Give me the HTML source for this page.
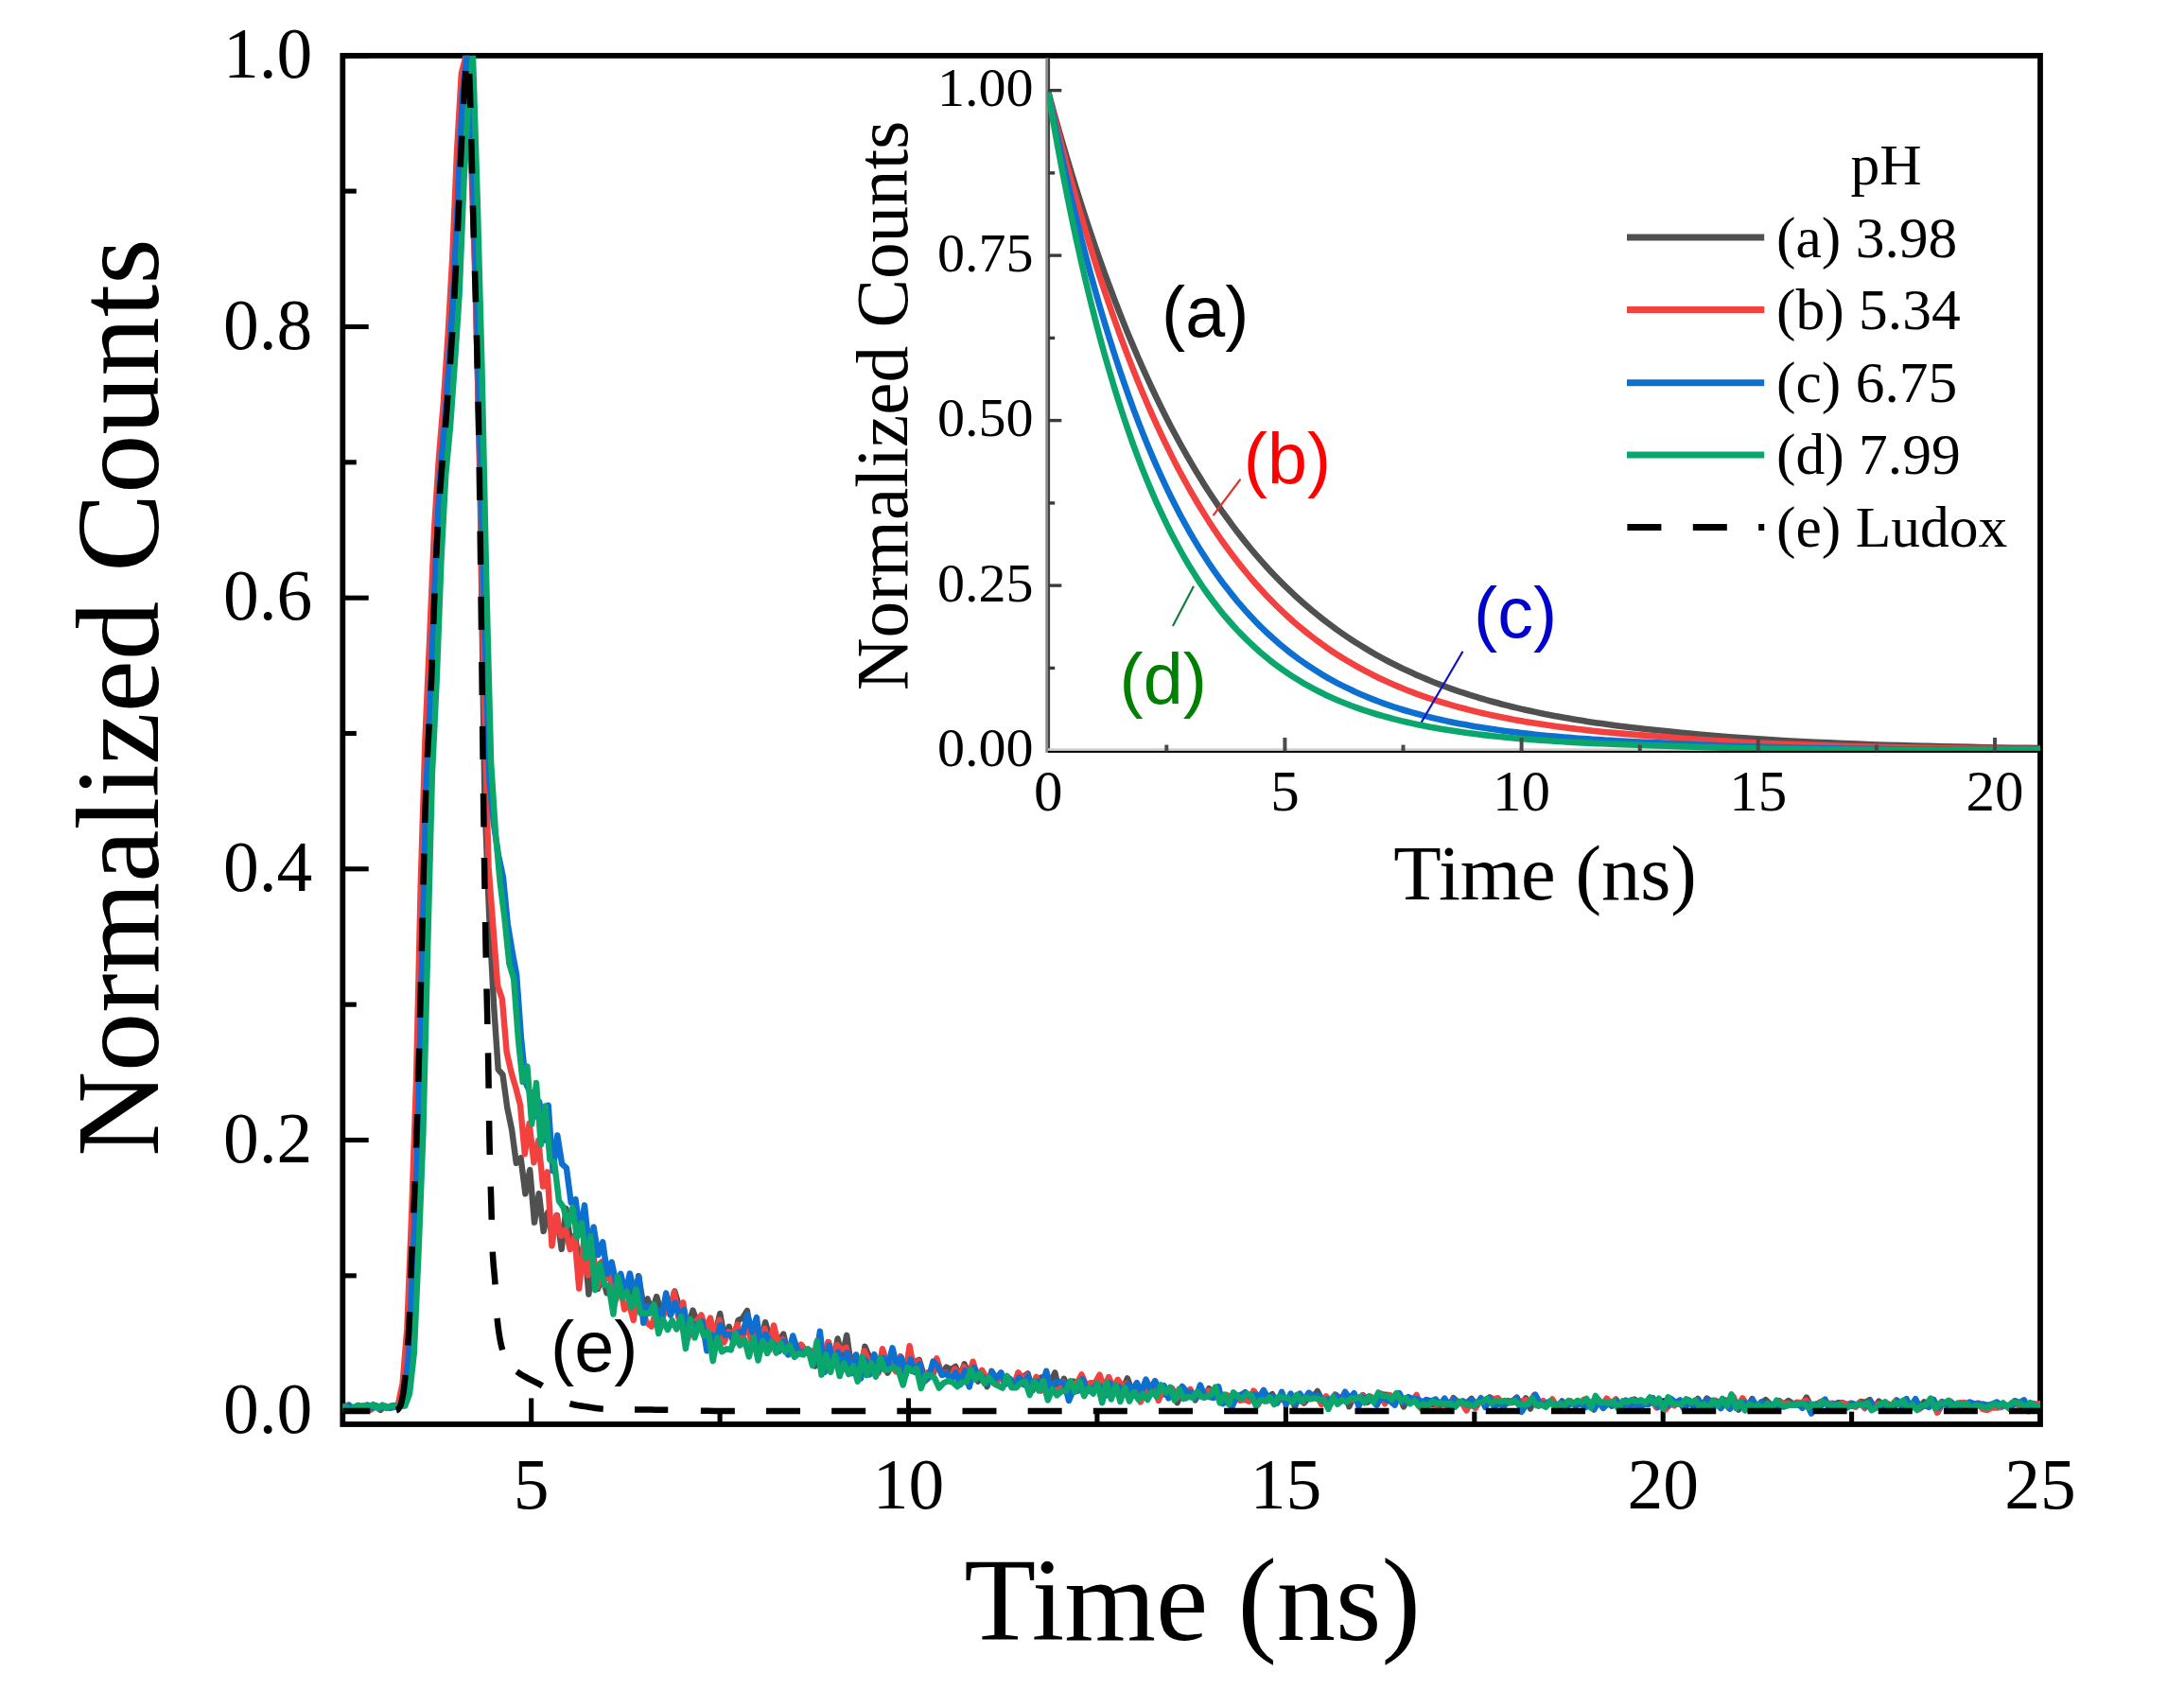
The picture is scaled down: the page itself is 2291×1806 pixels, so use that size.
<!DOCTYPE html>
<html lang="en"><head><meta charset="utf-8"><title>Normalized Counts vs Time (ns)</title>
<style>html,body{margin:0;padding:0;background:#fff}body{width:2291px;height:1806px;overflow:hidden}svg{display:block}</style></head>
<body>
<svg width="2291" height="1806" viewBox="0 0 2291 1806">
<rect width="2291" height="1806" fill="#fff"/>
<defs>
<clipPath id="cm"><rect x="362.3" y="58.85" width="1794.7" height="1447.15"/></clipPath>
<clipPath id="ci"><rect x="1107.8" y="58.85" width="1049.2" height="735.25"/></clipPath>
</defs>
<g stroke="#000" stroke-width="5.1" fill="none">
<path d="M362.3,1492.2h27.4"/>
<path d="M362.3,1348.9h14.5"/>
<path d="M362.3,1205.5h27.4"/>
<path d="M362.3,1062.2h14.5"/>
<path d="M362.3,918.8h27.4"/>
<path d="M362.3,775.5h14.5"/>
<path d="M362.3,632.2h27.4"/>
<path d="M362.3,488.8h14.5"/>
<path d="M362.3,345.5h27.4"/>
<path d="M362.3,202.1h14.5"/>
<path d="M362.3,58.8h27.4"/>
<path d="M561.7,1506.0v-27.6"/>
<path d="M761.1,1506.0v-13.4"/>
<path d="M960.5,1506.0v-27.6"/>
<path d="M1159.9,1506.0v-13.4"/>
<path d="M1359.4,1506.0v-27.6"/>
<path d="M1558.8,1506.0v-13.4"/>
<path d="M1758.2,1506.0v-27.6"/>
<path d="M1957.6,1506.0v-13.4"/>
</g>
<rect x="362.3" y="58.85" width="1794.7" height="1447.15" fill="none" stroke="#000" stroke-width="5.8"/>
<g clip-path="url(#cm)" fill="none" stroke-linejoin="round" stroke-linecap="butt">
<path d="M359.2,1486.5L364.0,1487.5L368.8,1485.6L373.6,1490.7L378.3,1488.2L383.1,1489.4L387.9,1486.3L392.7,1489.4L397.5,1486.2L402.3,1490.9L407.1,1486.7L411.8,1488.6L416.6,1485.9L421.4,1488.1L426.2,1472.1L431.0,1427.3L435.8,1319.4L440.6,1203.3L445.3,1020.2L450.1,829.1L454.9,734.8L459.7,614.2L464.5,515.6L469.3,462.4L474.1,396.9L478.8,327.0L483.6,225.1L488.4,121.8L493.2,58.8L498.0,145.9L502.8,297.2L507.6,516.9L512.3,841.7L517.1,966.5L521.9,1060.0L526.7,1130.8L531.5,1136.3L536.3,1171.4L541.1,1194.5L545.8,1229.9L550.6,1224.5L555.4,1262.4L560.2,1237.0L565.0,1292.6L569.8,1262.1L574.6,1301.9L579.3,1281.7L584.1,1307.8L588.9,1284.9L593.7,1320.9L598.5,1278.0L603.3,1316.5L608.1,1305.9L612.8,1343.6L617.6,1311.9L622.4,1368.5L627.2,1326.9L632.0,1362.8L636.8,1350.1L641.6,1367.3L646.3,1356.1L651.1,1373.2L655.9,1360.0L660.7,1369.3L665.5,1356.4L670.3,1388.3L675.1,1349.2L679.8,1378.0L684.6,1373.5L689.4,1386.3L694.2,1371.0L699.0,1387.3L703.8,1381.6L708.6,1384.5L713.3,1365.3L718.1,1381.9L722.9,1392.9L727.7,1401.3L732.5,1385.6L737.3,1397.9L742.1,1399.9L746.9,1401.3L751.6,1400.9L756.4,1409.7L761.2,1388.9L766.0,1415.0L770.8,1402.7L775.6,1420.8L780.4,1396.0L785.1,1393.7L789.9,1385.8L794.7,1420.3L799.5,1398.0L804.3,1416.8L809.1,1398.2L813.9,1415.2L818.6,1412.9L823.4,1418.7L828.2,1410.5L833.0,1431.7L837.8,1420.8L842.6,1423.9L847.4,1422.4L852.1,1428.6L856.9,1428.2L861.7,1444.6L866.5,1417.2L871.3,1434.5L876.1,1419.2L880.9,1439.1L885.6,1415.5L890.4,1434.9L895.2,1411.8L900.0,1446.0L904.8,1432.8L909.6,1455.2L914.4,1423.8L919.1,1435.0L923.9,1441.9L928.7,1451.2L933.5,1429.1L938.3,1451.7L943.1,1442.4L947.9,1448.0L952.6,1437.0L957.4,1450.8L962.2,1434.1L967.0,1440.7L971.8,1437.8L976.6,1454.2L981.4,1452.9L986.1,1454.0L990.9,1439.9L995.7,1453.7L1000.5,1445.6L1005.3,1448.4L1010.1,1444.9L1014.9,1455.6L1019.6,1442.3L1024.4,1454.7L1029.2,1444.2L1034.0,1460.7L1038.8,1451.3L1043.6,1466.2L1048.4,1449.8L1053.1,1460.9L1057.9,1454.3L1062.7,1463.8L1067.5,1461.2L1072.3,1465.9L1077.1,1454.9L1081.9,1455.7L1086.6,1452.4L1091.4,1470.5L1096.2,1458.4L1101.0,1456.5L1105.8,1455.0L1110.6,1462.1L1115.4,1451.4L1120.1,1472.4L1124.9,1457.7L1129.7,1469.0L1134.5,1460.6L1139.3,1462.5L1144.1,1456.0L1148.9,1469.7L1153.6,1465.7L1158.4,1464.0L1163.2,1459.6L1168.0,1470.1L1172.8,1459.5L1177.6,1469.8L1182.4,1460.6L1187.2,1468.5L1191.9,1457.4L1196.7,1470.8L1201.5,1467.3L1206.3,1477.5L1211.1,1469.7L1215.9,1471.1L1220.7,1463.4L1225.4,1475.5L1230.2,1473.5L1235.0,1476.1L1239.8,1471.9L1244.6,1483.3L1249.4,1472.3L1254.2,1478.1L1258.9,1471.3L1263.7,1480.4L1268.5,1471.0L1273.3,1477.6L1278.1,1468.2L1282.9,1475.2L1287.7,1472.0L1292.4,1480.4L1297.2,1477.4L1302.0,1476.4L1306.8,1479.2L1311.6,1477.0L1316.4,1472.1L1321.2,1480.8L1325.9,1471.4L1330.7,1478.4L1335.5,1470.9L1340.3,1477.7L1345.1,1474.2L1349.9,1483.2L1354.7,1478.0L1359.4,1482.1L1364.2,1475.2L1369.0,1487.2L1373.8,1475.8L1378.6,1483.6L1383.4,1478.0L1388.2,1476.8L1392.9,1471.0L1397.7,1480.4L1402.5,1477.3L1407.3,1481.9L1412.1,1476.4L1416.9,1482.4L1421.7,1474.5L1426.4,1487.3L1431.2,1475.7L1436.0,1482.2L1440.8,1475.0L1445.6,1482.7L1450.4,1478.9L1455.2,1484.4L1459.9,1474.0L1464.7,1474.8L1469.5,1475.3L1474.3,1481.0L1479.1,1475.1L1483.9,1487.4L1488.7,1478.2L1493.4,1481.1L1498.2,1480.0L1503.0,1485.8L1507.8,1480.1L1512.6,1485.3L1517.4,1485.4L1522.2,1483.8L1526.9,1481.4L1531.7,1487.6L1536.5,1478.2L1541.3,1482.4L1546.1,1482.7L1550.9,1483.3L1555.7,1479.0L1560.4,1484.5L1565.2,1480.1L1570.0,1484.8L1574.8,1477.4L1579.6,1480.0L1584.4,1480.7L1589.2,1488.6L1593.9,1481.2L1598.7,1481.9L1603.5,1477.7L1608.3,1487.2L1613.1,1478.3L1617.9,1489.6L1622.7,1477.6L1627.5,1484.9L1632.2,1486.6L1637.0,1485.1L1641.8,1481.1L1646.6,1489.1L1651.4,1481.4L1656.2,1487.2L1661.0,1484.0L1665.7,1485.5L1670.5,1483.1L1675.3,1486.2L1680.1,1482.5L1684.9,1490.4L1689.7,1479.7L1694.5,1486.5L1699.2,1479.7L1704.0,1486.7L1708.8,1480.1L1713.6,1487.8L1718.4,1482.4L1723.2,1488.3L1728.0,1479.6L1732.7,1484.3L1737.5,1483.1L1742.3,1485.0L1747.1,1481.1L1751.9,1488.3L1756.7,1486.1L1761.5,1489.0L1766.2,1484.9L1771.0,1485.2L1775.8,1482.6L1780.6,1490.4L1785.4,1482.4L1790.2,1485.6L1795.0,1479.0L1799.7,1487.1L1804.5,1478.5L1809.3,1482.3L1814.1,1483.7L1818.9,1484.6L1823.7,1480.4L1828.5,1487.5L1833.2,1484.3L1838.0,1490.7L1842.8,1480.6L1847.6,1486.9L1852.4,1479.1L1857.2,1488.0L1862.0,1483.6L1866.7,1480.0L1871.5,1484.5L1876.3,1489.6L1881.1,1481.2L1885.9,1484.9L1890.7,1481.0L1895.5,1484.2L1900.2,1485.7L1905.0,1485.5L1909.8,1477.6L1914.6,1486.7L1919.4,1490.6L1924.2,1486.7L1929.0,1483.3L1933.7,1484.9L1938.5,1485.6L1943.3,1483.1L1948.1,1483.3L1952.9,1485.3L1957.7,1483.6L1962.5,1485.7L1967.2,1482.0L1972.0,1482.9L1976.8,1480.1L1981.6,1488.2L1986.4,1481.6L1991.2,1487.0L1996.0,1484.5L2000.7,1490.0L2005.5,1483.4L2010.3,1486.1L2015.1,1485.9L2019.9,1487.0L2024.7,1480.4L2029.5,1487.3L2034.2,1482.4L2039.0,1486.0L2043.8,1480.6L2048.6,1493.2L2053.4,1484.0L2058.2,1485.4L2063.0,1483.3L2067.8,1486.0L2072.5,1483.4L2077.3,1489.5L2082.1,1488.6L2086.9,1488.3L2091.7,1485.3L2096.5,1484.6L2101.3,1486.2L2106.0,1487.8L2110.8,1488.3L2115.6,1487.9L2120.4,1485.5L2125.2,1488.1L2130.0,1482.7L2134.8,1486.6L2139.5,1482.7L2144.3,1489.7L2149.1,1483.9L2153.9,1485.8L2158.7,1486.8L2163.5,1489.0" stroke="#505050" stroke-width="6.4"/>
<path d="M358.6,1487.2L363.4,1488.0L368.2,1486.4L373.0,1489.7L377.7,1486.3L382.5,1489.7L387.3,1487.6L392.1,1490.7L396.9,1487.3L401.7,1488.4L406.5,1488.0L411.2,1488.2L416.0,1488.1L420.8,1485.7L425.6,1462.6L430.4,1404.4L435.2,1282.3L440.0,1143.4L444.7,936.2L449.5,780.3L454.3,672.3L459.1,558.9L463.9,484.5L468.7,427.3L473.5,355.6L478.2,273.0L483.0,160.8L487.8,77.7L492.6,58.8L497.4,148.6L502.2,290.0L507.0,471.9L511.7,726.9L516.5,916.2L521.3,979.0L526.1,1042.1L530.9,1056.2L535.7,1112.5L540.5,1133.9L545.2,1149.6L550.0,1168.4L554.8,1220.3L559.6,1187.9L564.4,1229.2L569.2,1205.8L574.0,1254.5L578.7,1239.4L583.5,1317.2L588.3,1285.3L593.1,1306.9L597.9,1299.8L602.7,1321.1L607.5,1307.8L612.2,1362.6L617.0,1317.6L621.8,1348.4L626.6,1325.5L631.4,1361.4L636.2,1334.0L641.0,1352.3L645.7,1349.3L650.5,1376.3L655.3,1356.5L660.1,1384.4L664.9,1377.6L669.7,1396.0L674.5,1362.8L679.2,1387.1L684.0,1398.7L688.8,1402.6L693.6,1386.2L698.4,1398.5L703.2,1386.6L708.0,1388.7L712.7,1366.2L717.5,1393.8L722.3,1377.3L727.1,1416.0L731.9,1397.7L736.7,1396.8L741.5,1390.5L746.3,1405.7L751.0,1393.5L755.8,1416.5L760.6,1395.7L765.4,1419.5L770.2,1408.3L775.0,1410.9L779.8,1400.7L784.5,1419.5L789.3,1395.5L794.1,1417.1L798.9,1401.9L803.7,1420.7L808.5,1404.7L813.3,1427.9L818.0,1401.4L822.8,1420.4L827.6,1416.2L832.4,1428.0L837.2,1428.4L842.0,1428.7L846.8,1421.6L851.5,1431.0L856.3,1428.0L861.1,1434.9L865.9,1414.7L870.7,1435.8L875.5,1419.0L880.3,1435.2L885.0,1422.1L889.8,1427.2L894.6,1424.9L899.4,1445.1L904.2,1441.9L909.0,1443.9L913.8,1428.4L918.5,1440.5L923.3,1436.4L928.1,1452.5L932.9,1426.2L937.7,1441.7L942.5,1442.4L947.3,1450.2L952.0,1434.0L956.8,1456.1L961.6,1423.2L966.4,1449.0L971.2,1439.2L976.0,1458.5L980.8,1451.4L985.5,1453.5L990.3,1436.3L995.1,1452.5L999.9,1451.3L1004.7,1458.0L1009.5,1447.3L1014.3,1455.1L1019.0,1445.2L1023.8,1456.9L1028.6,1439.7L1033.4,1455.1L1038.2,1448.8L1043.0,1457.4L1047.8,1455.7L1052.5,1463.9L1057.3,1455.0L1062.1,1462.0L1066.9,1457.3L1071.7,1464.6L1076.5,1451.2L1081.3,1457.9L1086.0,1454.0L1090.8,1465.5L1095.6,1455.8L1100.4,1470.8L1105.2,1460.3L1110.0,1466.3L1114.8,1468.4L1119.5,1471.8L1124.3,1461.4L1129.1,1472.8L1133.9,1464.7L1138.7,1462.3L1143.5,1453.4L1148.3,1464.9L1153.0,1462.1L1157.8,1462.0L1162.6,1453.7L1167.4,1467.7L1172.2,1456.0L1177.0,1468.0L1181.8,1458.8L1186.6,1466.2L1191.3,1462.9L1196.1,1471.6L1200.9,1467.5L1205.7,1482.5L1210.5,1472.2L1215.3,1464.8L1220.1,1466.5L1224.8,1481.0L1229.6,1467.7L1234.4,1470.6L1239.2,1467.9L1244.0,1478.4L1248.8,1470.4L1253.6,1475.4L1258.3,1468.8L1263.1,1478.3L1267.9,1470.5L1272.7,1473.5L1277.5,1470.3L1282.3,1477.8L1287.1,1469.0L1291.8,1479.7L1296.6,1474.8L1301.4,1477.9L1306.2,1475.9L1311.0,1481.0L1315.8,1479.8L1320.6,1481.7L1325.3,1470.6L1330.1,1485.4L1334.9,1472.8L1339.7,1481.4L1344.5,1477.5L1349.3,1482.4L1354.1,1479.5L1358.8,1481.3L1363.6,1477.3L1368.4,1483.7L1373.2,1477.1L1378.0,1482.2L1382.8,1473.7L1387.6,1477.1L1392.3,1476.3L1397.1,1485.0L1401.9,1476.4L1406.7,1485.2L1411.5,1474.4L1416.3,1477.9L1421.1,1475.7L1425.8,1480.8L1430.6,1479.5L1435.4,1481.4L1440.2,1475.5L1445.0,1477.6L1449.8,1477.0L1454.6,1484.9L1459.3,1473.2L1464.1,1484.2L1468.9,1475.1L1473.7,1482.2L1478.5,1472.9L1483.3,1483.2L1488.1,1478.2L1492.8,1482.0L1497.6,1475.0L1502.4,1489.5L1507.2,1481.6L1512.0,1483.3L1516.8,1482.7L1521.6,1487.7L1526.3,1482.6L1531.1,1490.0L1535.9,1479.7L1540.7,1484.5L1545.5,1483.4L1550.3,1491.4L1555.1,1482.6L1559.8,1488.9L1564.6,1481.4L1569.4,1480.9L1574.2,1478.7L1579.0,1479.3L1583.8,1478.2L1588.6,1485.8L1593.3,1483.4L1598.1,1483.0L1602.9,1480.2L1607.7,1481.8L1612.5,1480.2L1617.3,1482.7L1622.1,1475.0L1626.9,1486.7L1631.6,1481.2L1636.4,1485.2L1641.2,1479.5L1646.0,1488.7L1650.8,1484.8L1655.6,1486.5L1660.4,1481.5L1665.1,1486.4L1669.9,1485.0L1674.7,1479.7L1679.5,1481.8L1684.3,1489.9L1689.1,1480.4L1693.9,1486.8L1698.6,1478.7L1703.4,1484.1L1708.2,1479.5L1713.0,1488.9L1717.8,1481.6L1722.6,1489.4L1727.4,1486.7L1732.1,1482.6L1736.9,1484.1L1741.7,1483.3L1746.5,1481.3L1751.3,1488.2L1756.1,1484.1L1760.9,1490.5L1765.6,1481.1L1770.4,1486.2L1775.2,1481.1L1780.0,1486.9L1784.8,1480.5L1789.6,1485.0L1794.4,1480.5L1799.1,1489.4L1803.9,1481.4L1808.7,1486.3L1813.5,1480.8L1818.3,1483.8L1823.1,1480.9L1827.9,1489.0L1832.6,1476.7L1837.4,1488.0L1842.2,1478.3L1847.0,1485.6L1851.8,1482.7L1856.6,1489.9L1861.4,1483.0L1866.1,1489.2L1870.9,1488.5L1875.7,1487.0L1880.5,1481.9L1885.3,1485.0L1890.1,1483.8L1894.9,1485.8L1899.6,1482.8L1904.4,1483.3L1909.2,1480.7L1914.0,1485.5L1918.8,1488.0L1923.6,1482.7L1928.4,1481.1L1933.1,1483.9L1937.9,1483.7L1942.7,1487.3L1947.5,1483.3L1952.3,1485.5L1957.1,1486.2L1961.9,1487.8L1966.6,1482.9L1971.4,1489.1L1976.2,1482.9L1981.0,1487.0L1985.8,1484.6L1990.6,1489.4L1995.4,1484.4L2000.1,1486.0L2004.9,1480.4L2009.7,1485.8L2014.5,1483.8L2019.3,1490.3L2024.1,1483.0L2028.9,1490.1L2033.6,1486.6L2038.4,1486.1L2043.2,1480.0L2048.0,1493.6L2052.8,1482.0L2057.6,1486.1L2062.4,1481.9L2067.2,1487.0L2071.9,1483.7L2076.7,1483.0L2081.5,1488.3L2086.3,1485.0L2091.1,1483.7L2095.9,1489.8L2100.7,1491.1L2105.4,1488.6L2110.2,1488.3L2115.0,1487.8L2119.8,1485.5L2124.6,1489.4L2129.4,1481.7L2134.2,1485.7L2138.9,1482.2L2143.7,1487.6L2148.5,1484.7L2153.3,1484.5L2158.1,1484.2L2162.9,1491.2" stroke="#f2413f" stroke-width="6.4"/>
<path d="M359.6,1485.0L364.4,1491.3L369.2,1486.0L374.0,1489.7L378.7,1486.0L383.5,1487.8L388.3,1485.4L393.1,1488.8L397.9,1486.8L402.7,1488.3L407.5,1487.6L412.2,1489.0L417.0,1487.0L421.8,1488.1L426.6,1477.4L431.4,1440.4L436.2,1343.2L441.0,1226.3L445.7,1037.3L450.5,836.3L455.3,730.9L460.1,605.6L464.9,506.5L469.7,452.4L474.5,385.5L479.2,311.5L484.0,211.2L488.8,100.8L493.6,58.8L498.4,146.8L503.2,296.2L508.0,487.1L512.7,671.6L517.5,826.2L522.3,873.4L527.1,904.8L531.9,927.1L536.7,976.4L541.5,1005.5L546.2,1031.0L551.0,1098.2L555.8,1144.8L560.6,1156.1L565.4,1180.7L570.2,1165.1L575.0,1205.8L579.7,1168.6L584.5,1238.1L589.3,1200.5L594.1,1230.7L598.9,1235.1L603.7,1271.6L608.5,1268.2L613.2,1303.7L618.0,1274.3L622.8,1319.7L627.6,1297.4L632.4,1326.9L637.2,1313.3L642.0,1347.0L646.7,1334.5L651.5,1357.5L656.3,1346.9L661.1,1368.2L665.9,1346.5L670.7,1367.5L675.5,1350.3L680.2,1398.7L685.0,1381.3L689.8,1385.8L694.6,1384.4L699.4,1394.7L704.2,1367.3L709.0,1390.8L713.7,1377.6L718.5,1391.8L723.3,1385.1L728.1,1411.2L732.9,1399.5L737.7,1404.3L742.5,1397.4L747.3,1428.3L752.0,1411.6L756.8,1418.0L761.6,1401.2L766.4,1411.6L771.2,1411.1L776.0,1412.7L780.8,1408.5L785.5,1409.1L790.3,1390.0L795.1,1408.7L799.9,1393.1L804.7,1425.4L809.5,1410.7L814.3,1418.5L819.0,1422.8L823.8,1428.7L828.6,1418.2L833.4,1432.4L838.2,1412.4L843.0,1426.9L847.8,1431.3L852.5,1427.7L857.3,1430.6L862.1,1441.0L866.9,1407.6L871.7,1451.1L876.5,1422.8L881.3,1443.3L886.0,1429.5L890.8,1444.6L895.6,1430.0L900.4,1452.2L905.2,1432.4L910.0,1457.7L914.8,1437.5L919.5,1453.4L924.3,1432.0L929.1,1449.7L933.9,1435.7L938.7,1444.1L943.5,1425.3L948.3,1444.6L953.0,1435.6L957.8,1453.3L962.6,1437.3L967.4,1450.9L972.2,1442.0L977.0,1461.1L981.8,1456.8L986.5,1439.5L991.3,1444.2L996.1,1453.9L1000.9,1452.0L1005.7,1458.7L1010.5,1451.2L1015.3,1464.1L1020.0,1449.4L1024.8,1466.5L1029.6,1445.8L1034.4,1455.1L1039.2,1455.8L1044.0,1463.2L1048.8,1450.8L1053.5,1457.4L1058.3,1451.3L1063.1,1463.3L1067.9,1458.1L1072.7,1464.9L1077.5,1456.7L1082.3,1464.1L1087.0,1455.2L1091.8,1467.7L1096.6,1460.3L1101.4,1467.4L1106.2,1449.7L1111.0,1468.3L1115.8,1461.9L1120.5,1461.0L1125.3,1462.9L1130.1,1481.1L1134.9,1469.0L1139.7,1470.7L1144.5,1458.2L1149.3,1468.9L1154.0,1471.7L1158.8,1464.1L1163.6,1466.2L1168.4,1476.2L1173.2,1462.1L1178.0,1473.8L1182.8,1466.3L1187.6,1470.4L1192.3,1463.6L1197.1,1470.5L1201.9,1462.1L1206.7,1471.8L1211.5,1458.6L1216.3,1469.1L1221.1,1460.1L1225.8,1469.0L1230.6,1465.2L1235.4,1478.4L1240.2,1473.6L1245.0,1473.5L1249.8,1465.9L1254.6,1471.7L1259.3,1472.2L1264.1,1478.1L1268.9,1464.5L1273.7,1476.0L1278.5,1477.2L1283.3,1478.0L1288.1,1466.1L1292.8,1484.3L1297.6,1481.3L1302.4,1488.0L1307.2,1476.9L1312.0,1474.6L1316.8,1472.6L1321.6,1476.6L1326.3,1474.5L1331.1,1478.8L1335.9,1469.9L1340.7,1478.6L1345.5,1476.5L1350.3,1483.6L1355.1,1471.7L1359.8,1485.1L1364.6,1473.5L1369.4,1484.4L1374.2,1473.5L1379.0,1480.4L1383.8,1472.6L1388.6,1476.4L1393.3,1475.5L1398.1,1480.7L1402.9,1479.6L1407.7,1481.3L1412.5,1475.3L1417.3,1481.8L1422.1,1471.7L1426.8,1478.6L1431.6,1473.1L1436.4,1486.7L1441.2,1477.6L1446.0,1480.7L1450.8,1480.9L1455.6,1485.8L1460.3,1476.0L1465.1,1479.9L1469.9,1481.7L1474.7,1485.7L1479.5,1473.3L1484.3,1482.9L1489.1,1477.1L1493.8,1479.2L1498.6,1479.3L1503.4,1482.4L1508.2,1480.2L1513.0,1481.4L1517.8,1479.6L1522.6,1485.0L1527.3,1478.6L1532.1,1486.3L1536.9,1480.0L1541.7,1484.1L1546.5,1481.2L1551.3,1485.1L1556.1,1480.5L1560.8,1485.5L1565.6,1478.2L1570.4,1488.0L1575.2,1479.1L1580.0,1488.1L1584.8,1483.1L1589.6,1486.1L1594.3,1482.4L1599.1,1483.1L1603.9,1478.2L1608.7,1492.9L1613.5,1485.1L1618.3,1483.8L1623.1,1474.6L1627.9,1483.2L1632.6,1485.2L1637.4,1482.2L1642.2,1484.9L1647.0,1485.5L1651.8,1482.7L1656.6,1486.0L1661.4,1482.6L1666.1,1486.3L1670.9,1482.4L1675.7,1488.5L1680.5,1485.7L1685.3,1490.3L1690.1,1481.9L1694.9,1489.0L1699.6,1484.3L1704.4,1486.2L1709.2,1481.5L1714.0,1491.2L1718.8,1480.6L1723.6,1487.1L1728.4,1482.3L1733.1,1489.2L1737.9,1484.8L1742.7,1484.8L1747.5,1478.2L1752.3,1487.1L1757.1,1483.2L1761.9,1486.6L1766.6,1478.9L1771.4,1483.2L1776.2,1480.4L1781.0,1487.9L1785.8,1480.6L1790.6,1488.2L1795.4,1480.0L1800.1,1486.0L1804.9,1480.2L1809.7,1489.2L1814.5,1482.2L1819.3,1489.2L1824.1,1481.8L1828.9,1489.7L1833.6,1481.4L1838.4,1488.2L1843.2,1482.7L1848.0,1485.2L1852.8,1480.6L1857.6,1487.5L1862.4,1482.4L1867.1,1488.8L1871.9,1484.7L1876.7,1487.5L1881.5,1487.0L1886.3,1487.5L1891.1,1486.0L1895.9,1484.8L1900.6,1483.9L1905.4,1488.9L1910.2,1484.1L1915.0,1494.6L1919.8,1484.5L1924.6,1486.7L1929.4,1479.5L1934.1,1490.6L1938.9,1484.4L1943.7,1486.4L1948.5,1489.5L1953.3,1488.3L1958.1,1484.5L1962.9,1486.0L1967.6,1483.9L1972.4,1487.3L1977.2,1482.5L1982.0,1489.3L1986.8,1487.2L1991.6,1491.0L1996.4,1485.5L2001.1,1490.1L2005.9,1480.8L2010.7,1487.3L2015.5,1479.1L2020.3,1488.5L2025.1,1479.2L2029.9,1488.5L2034.6,1485.9L2039.4,1488.0L2044.2,1479.8L2049.0,1488.8L2053.8,1482.4L2058.6,1486.2L2063.4,1483.2L2068.2,1487.5L2072.9,1485.7L2077.7,1484.8L2082.5,1482.5L2087.3,1484.5L2092.1,1484.0L2096.9,1486.0L2101.7,1485.8L2106.4,1484.5L2111.2,1482.4L2116.0,1486.4L2120.8,1485.6L2125.6,1490.4L2130.4,1481.2L2135.2,1483.3L2139.9,1480.3L2144.7,1492.3L2149.5,1485.3L2154.3,1489.3L2159.1,1486.4L2163.9,1488.1" stroke="#0d6fd0" stroke-width="6.4"/>
<path d="M356.4,1486.1L361.2,1489.2L366.0,1487.6L370.8,1491.6L375.6,1487.2L380.4,1487.0L385.1,1486.1L389.9,1488.0L394.7,1485.1L399.5,1489.2L404.3,1485.5L409.1,1489.1L413.9,1486.1L418.6,1487.5L423.4,1486.7L428.2,1486.5L433.0,1473.8L437.8,1430.6L442.6,1322.5L447.4,1198.5L452.1,1005.9L456.9,819.3L461.7,719.7L466.5,592.0L471.3,501.6L476.1,450.7L480.9,382.9L485.6,311.9L490.4,194.3L495.2,102.6L500.0,58.8L504.8,211.8L509.6,392.7L514.4,622.1L519.1,805.8L523.9,880.3L528.7,933.4L533.5,971.4L538.3,1018.6L543.1,1034.8L547.9,1098.6L552.6,1143.8L557.4,1127.6L562.2,1188.6L567.0,1145.0L571.8,1210.6L576.6,1169.4L581.4,1226.5L586.1,1228.8L590.9,1269.7L595.7,1276.6L600.5,1295.8L605.3,1277.0L610.1,1308.4L614.9,1293.3L619.6,1330.6L624.4,1306.9L629.2,1364.0L634.0,1336.1L638.8,1359.0L643.6,1359.2L648.4,1389.7L653.1,1349.9L657.9,1372.7L662.7,1365.4L667.5,1382.5L672.3,1363.2L677.1,1388.7L681.9,1388.2L686.6,1388.7L691.4,1379.3L696.2,1410.1L701.0,1395.3L705.8,1406.0L710.6,1396.2L715.4,1405.5L720.1,1391.9L724.9,1426.0L729.7,1394.8L734.5,1414.5L739.3,1397.8L744.1,1412.4L748.9,1408.2L753.7,1439.1L758.4,1414.2L763.2,1429.2L768.0,1426.3L772.8,1427.4L777.6,1409.8L782.4,1422.6L787.2,1416.6L791.9,1434.6L796.7,1414.6L801.5,1438.5L806.3,1417.7L811.1,1431.0L815.9,1418.4L820.7,1430.6L825.4,1420.2L830.2,1429.6L835.0,1422.6L839.8,1434.9L844.6,1431.1L849.4,1432.4L854.2,1426.3L858.9,1444.0L863.7,1418.1L868.5,1453.7L873.3,1432.2L878.1,1450.9L882.9,1433.1L887.7,1455.1L892.4,1441.2L897.2,1453.1L902.0,1444.2L906.8,1460.8L911.6,1434.4L916.4,1454.2L921.2,1441.5L925.9,1455.8L930.7,1435.7L935.5,1448.9L940.3,1448.1L945.1,1445.6L949.9,1449.3L954.7,1464.5L959.4,1446.0L964.2,1450.0L969.0,1447.0L973.8,1468.0L978.6,1453.9L983.4,1454.0L988.2,1457.4L992.9,1467.6L997.7,1462.2L1002.5,1460.1L1007.3,1461.7L1012.1,1466.2L1016.9,1461.6L1021.7,1461.3L1026.4,1448.3L1031.2,1458.8L1036.0,1452.1L1040.8,1462.9L1045.6,1456.7L1050.4,1462.6L1055.2,1465.2L1059.9,1467.6L1064.7,1454.9L1069.5,1467.4L1074.3,1467.2L1079.1,1462.3L1083.9,1460.8L1088.7,1475.1L1093.4,1460.3L1098.2,1470.4L1103.0,1460.2L1107.8,1480.6L1112.6,1468.6L1117.4,1475.3L1122.2,1470.9L1126.9,1471.3L1131.7,1460.3L1136.5,1471.8L1141.3,1460.2L1146.1,1476.1L1150.9,1467.4L1155.7,1473.6L1160.4,1462.9L1165.2,1483.3L1170.0,1461.6L1174.8,1479.6L1179.6,1464.4L1184.4,1482.1L1189.2,1467.1L1194.0,1481.6L1198.7,1472.0L1203.5,1479.7L1208.3,1473.9L1213.1,1480.1L1217.9,1471.3L1222.7,1476.7L1227.5,1464.4L1232.2,1472.5L1237.0,1466.8L1241.8,1480.6L1246.6,1468.8L1251.4,1479.2L1256.2,1476.9L1261.0,1477.8L1265.7,1471.6L1270.5,1477.3L1275.3,1477.1L1280.1,1474.7L1284.9,1466.7L1289.7,1483.4L1294.5,1474.6L1299.2,1484.8L1304.0,1472.2L1308.8,1476.9L1313.6,1478.7L1318.4,1473.6L1323.2,1475.7L1328.0,1486.8L1332.7,1480.2L1337.5,1481.7L1342.3,1477.5L1347.1,1485.1L1351.9,1476.7L1356.7,1477.9L1361.5,1477.9L1366.2,1482.9L1371.0,1474.8L1375.8,1481.7L1380.6,1477.6L1385.4,1479.4L1390.2,1478.3L1395.0,1479.9L1399.7,1480.0L1404.5,1490.0L1409.3,1477.0L1414.1,1484.8L1418.9,1480.0L1423.7,1482.6L1428.5,1478.5L1433.2,1478.8L1438.0,1477.0L1442.8,1483.3L1447.6,1476.1L1452.4,1482.7L1457.2,1472.4L1462.0,1476.4L1466.7,1475.9L1471.5,1480.2L1476.3,1473.0L1481.1,1481.2L1485.9,1478.2L1490.7,1484.3L1495.5,1480.8L1500.2,1487.2L1505.0,1484.5L1509.8,1486.2L1514.6,1481.4L1519.4,1483.8L1524.2,1483.8L1529.0,1484.3L1533.7,1484.1L1538.5,1487.7L1543.3,1481.9L1548.1,1484.4L1552.9,1485.0L1557.7,1487.1L1562.5,1483.0L1567.2,1482.6L1572.0,1478.8L1576.8,1483.9L1581.6,1481.3L1586.4,1482.2L1591.2,1480.9L1596.0,1483.3L1600.7,1481.0L1605.5,1485.0L1610.3,1485.2L1615.1,1485.0L1619.9,1478.3L1624.7,1486.3L1629.5,1484.9L1634.3,1487.9L1639.0,1481.3L1643.8,1487.4L1648.6,1484.0L1653.4,1487.0L1658.2,1481.1L1663.0,1484.1L1667.8,1481.0L1672.5,1482.7L1677.3,1478.9L1682.1,1488.6L1686.9,1475.9L1691.7,1483.4L1696.5,1482.3L1701.3,1484.3L1706.0,1481.8L1710.8,1489.7L1715.6,1481.3L1720.4,1482.7L1725.2,1479.9L1730.0,1482.0L1734.8,1480.3L1739.5,1483.3L1744.3,1477.5L1749.1,1484.7L1753.9,1478.7L1758.7,1489.6L1763.5,1477.3L1768.3,1484.8L1773.0,1484.4L1777.8,1484.9L1782.6,1479.3L1787.4,1483.4L1792.2,1480.5L1797.0,1486.4L1801.8,1484.9L1806.5,1489.3L1811.3,1480.5L1816.1,1486.4L1820.9,1478.9L1825.7,1486.8L1830.5,1474.3L1835.3,1489.0L1840.0,1482.2L1844.8,1491.3L1849.6,1484.6L1854.4,1487.8L1859.2,1485.5L1864.0,1489.6L1868.8,1483.9L1873.5,1489.0L1878.3,1480.7L1883.1,1485.8L1887.9,1486.3L1892.7,1485.5L1897.5,1485.7L1902.3,1484.1L1907.0,1483.8L1911.8,1488.6L1916.6,1484.7L1921.4,1488.5L1926.2,1481.7L1931.0,1484.3L1935.8,1485.7L1940.5,1486.2L1945.3,1485.1L1950.1,1488.9L1954.9,1486.4L1959.7,1487.0L1964.5,1484.6L1969.3,1486.3L1974.0,1483.4L1978.8,1491.2L1983.6,1488.2L1988.4,1484.6L1993.2,1482.2L1998.0,1490.4L2002.8,1482.6L2007.5,1484.8L2012.3,1480.7L2017.1,1490.7L2021.9,1485.2L2026.7,1491.0L2031.5,1486.1L2036.3,1485.3L2041.0,1478.7L2045.8,1489.3L2050.6,1484.0L2055.4,1483.9L2060.2,1480.8L2065.0,1488.7L2069.8,1483.6L2074.6,1485.8L2079.3,1484.1L2084.1,1489.0L2088.9,1485.9L2093.7,1486.4L2098.5,1488.6L2103.3,1487.4L2108.1,1484.0L2112.8,1487.2L2117.6,1483.4L2122.4,1487.9L2127.2,1483.0L2132.0,1483.2L2136.8,1484.1L2141.6,1489.1L2146.3,1483.1L2151.1,1486.2L2155.9,1487.4L2160.7,1489.3" stroke="#0aa66c" stroke-width="6.4"/>
<path d="M362.30,1491.90L368.30,1491.90L374.30,1491.90L380.30,1491.90L386.30,1491.90L392.30,1491.90L398.30,1491.90L404.30,1491.90L410.30,1491.90L415.00,1491.90L415.25,1491.90L415.50,1491.89L415.75,1491.88L416.00,1491.86L416.25,1491.84L416.50,1491.82L416.75,1491.79L417.00,1491.76L417.25,1491.73L417.50,1491.69L417.75,1491.65L418.00,1491.60L418.25,1491.56L418.50,1491.51L418.75,1491.45L419.00,1491.40L419.25,1491.33L419.50,1491.22L419.75,1491.09L420.00,1490.92L420.25,1490.72L420.50,1490.50L420.75,1490.25L421.00,1489.97L421.25,1489.67L421.50,1489.35L421.75,1489.01L422.00,1488.64L422.25,1488.26L422.50,1487.86L422.75,1487.44L423.00,1487.00L423.25,1486.50L423.50,1485.88L423.75,1485.15L424.00,1484.32L424.25,1483.39L424.50,1482.39L424.75,1481.30L425.00,1480.15L425.25,1478.93L425.50,1477.66L425.75,1476.35L426.00,1475.00L426.25,1473.54L426.50,1471.92L426.75,1470.14L427.00,1468.22L427.25,1466.16L427.50,1463.99L427.75,1461.71L428.00,1459.33L428.25,1456.88L428.50,1454.35L428.75,1451.76L429.00,1449.13L429.25,1446.46L429.50,1443.75L429.75,1440.98L430.00,1438.12L430.25,1435.17L430.50,1432.11L430.75,1428.92L431.00,1425.59L431.25,1422.11L431.50,1418.46L431.75,1414.62L432.00,1410.59L432.25,1406.34L432.50,1401.86L432.75,1396.99L433.00,1391.22L433.25,1384.68L433.50,1377.58L433.75,1370.15L434.00,1362.59L434.25,1355.11L434.50,1347.93L434.75,1341.25L435.00,1335.13L435.25,1329.26L435.50,1323.57L435.75,1318.01L436.00,1312.52L436.25,1307.03L436.50,1301.49L436.75,1295.83L437.00,1290.00L437.25,1284.07L437.50,1278.15L437.75,1272.22L438.00,1266.26L438.25,1260.25L438.50,1254.16L438.75,1247.98L439.00,1241.69L439.25,1235.27L439.50,1228.69L439.75,1221.94L440.00,1215.00L440.25,1207.84L440.50,1200.45L440.75,1192.85L441.00,1185.05L441.25,1177.07L441.50,1168.93L441.75,1160.63L442.00,1152.20L442.25,1143.65L442.50,1135.00L442.75,1126.17L443.00,1117.10L443.25,1107.82L443.50,1098.35L443.75,1088.73L444.00,1078.99L444.25,1069.15L444.50,1059.24L444.75,1049.30L445.00,1039.34L445.25,1029.40L445.50,1019.52L445.75,1009.71L446.00,1000.00L446.25,990.19L446.50,980.10L446.75,969.79L447.00,959.32L447.25,948.75L447.50,938.14L447.75,927.55L448.00,917.05L448.25,906.71L448.50,896.57L448.75,886.70L449.00,877.16L449.25,868.03L449.50,859.35L449.75,851.18L450.00,843.60L450.25,836.66L450.50,830.17L450.75,824.00L451.00,818.14L451.25,812.54L451.50,807.19L451.75,802.05L452.00,797.11L452.25,792.32L452.50,787.66L452.75,783.11L453.00,778.64L453.25,774.22L453.50,769.82L453.75,765.42L454.00,760.98L454.25,756.49L454.50,751.90L454.75,747.20L455.00,742.36L455.25,737.34L455.50,732.13L455.75,726.69L456.00,721.00L456.25,714.99L456.50,708.64L456.75,702.01L457.00,695.16L457.25,688.15L457.50,681.03L457.75,673.86L458.00,666.70L458.25,659.59L458.50,652.61L458.75,645.80L459.00,639.23L459.25,632.94L459.50,627.00L459.75,621.28L460.00,615.61L460.25,610.00L460.50,604.46L460.75,598.99L461.00,593.60L461.25,588.29L461.50,583.07L461.75,577.94L462.00,572.90L462.25,567.98L462.50,563.16L462.75,558.45L463.00,553.87L463.25,549.41L463.50,545.08L463.75,540.89L464.00,536.84L464.25,532.93L464.50,529.15L464.75,525.49L465.00,521.94L465.25,518.49L465.50,515.13L465.75,511.86L466.00,508.67L466.25,505.55L466.50,502.49L466.75,499.49L467.00,496.55L467.25,493.64L467.50,490.78L467.75,487.94L468.00,485.12L468.25,482.32L468.50,479.53L468.75,476.74L469.00,473.94L469.25,471.12L469.50,468.29L469.75,465.43L470.00,462.53L470.25,459.59L470.50,456.60L470.75,453.55L471.00,450.44L471.25,447.26L471.50,444.00L471.75,440.70L472.00,437.41L472.25,434.11L472.50,430.82L472.75,427.52L473.00,424.22L473.25,420.91L473.50,417.59L473.75,414.26L474.00,410.92L474.25,407.56L474.50,404.18L474.75,400.78L475.00,397.36L475.25,393.91L475.50,390.43L475.75,386.93L476.00,383.39L476.25,379.82L476.50,376.22L476.75,372.57L477.00,368.89L477.25,365.16L477.50,361.39L477.75,357.56L478.00,353.69L478.25,349.77L478.50,345.80L478.75,341.76L479.00,337.67L479.25,333.52L479.50,329.30L479.75,324.97L480.00,320.51L480.25,315.95L480.50,311.28L480.75,306.51L481.00,301.66L481.25,296.73L481.50,291.72L481.75,286.66L482.00,281.53L482.25,276.36L482.50,271.15L482.75,265.91L483.00,260.65L483.25,255.37L483.50,250.08L483.75,244.79L484.00,239.51L484.25,234.21L484.50,228.78L484.75,223.23L485.00,217.57L485.25,211.83L485.50,206.03L485.75,200.19L486.00,194.34L486.25,188.50L486.50,182.68L486.75,176.92L487.00,171.23L487.25,165.64L487.50,160.17L487.75,154.83L488.00,149.66L488.25,144.67L488.50,139.81L488.75,134.92L489.00,130.03L489.25,125.16L489.50,120.34L489.75,115.59L490.00,110.93L490.25,106.39L490.50,101.99L490.75,97.76L491.00,93.72L491.25,89.91L491.50,86.33L491.75,83.02L492.00,80.00L492.25,77.19L492.50,74.49L492.75,71.92L493.00,69.49L493.25,67.21L493.50,65.08L493.75,63.13L494.00,61.37L494.25,59.79L494.30,59.50L494.55,60.11L494.80,61.60L495.05,63.83L495.30,66.68L495.55,70.01L495.80,73.69L496.05,77.60L496.30,81.74L496.55,87.19L496.80,93.99L497.05,101.84L497.30,110.48L497.55,119.62L497.80,128.98L498.05,138.27L498.30,147.32L498.55,156.85L498.80,166.93L499.05,177.38L499.30,188.06L499.55,198.80L499.80,209.45L500.05,219.84L500.30,229.82L500.55,239.23L500.80,248.12L501.05,256.62L501.30,264.83L501.55,272.83L501.80,280.73L502.05,288.61L502.30,296.56L502.55,304.68L502.80,313.07L503.05,321.81L503.30,331.00L503.55,340.46L503.80,350.00L504.05,359.69L504.30,369.60L504.55,379.80L504.80,390.34L505.05,401.31L505.30,412.76L505.55,424.77L505.80,437.40L506.05,450.74L506.30,465.24L506.55,480.99L506.80,497.81L507.05,515.52L507.30,533.95L507.55,552.93L507.80,572.29L508.05,591.84L508.30,611.43L508.55,630.90L508.80,651.06L509.05,672.14L509.30,693.88L509.55,715.99L509.80,738.22L510.05,760.30L510.30,781.94L510.55,802.90L510.80,822.88L511.05,841.66L511.30,859.76L511.55,877.47L511.80,894.78L512.05,911.65L512.30,928.05L512.55,943.97L512.80,959.36L513.05,974.20L513.30,988.46L513.55,1002.04L513.80,1014.69L514.05,1026.55L514.30,1037.82L514.55,1048.69L514.80,1059.34L515.05,1069.97L515.30,1080.76L515.55,1091.90L515.80,1103.59L516.05,1116.01L516.30,1129.36L516.55,1144.41L516.80,1162.50L517.05,1181.18L517.30,1197.65L517.55,1210.06L517.80,1220.73L518.05,1230.30L518.30,1239.05L518.55,1247.31L518.80,1255.35L519.05,1263.48L519.30,1272.00L519.55,1281.26L519.80,1291.02L520.05,1300.71L520.30,1309.74L520.55,1317.53L520.80,1323.50L521.05,1328.03L521.30,1331.96L521.55,1335.41L521.80,1338.48L522.05,1341.28L522.30,1343.93L522.55,1346.53L522.80,1349.21L523.05,1352.06L523.30,1355.20L523.55,1358.75L523.80,1362.89L524.05,1367.51L524.30,1372.41L524.55,1377.36L524.80,1382.16L525.05,1386.59L525.30,1390.44L525.55,1393.50L525.80,1395.88L526.05,1398.13L526.30,1400.28L526.55,1402.33L526.80,1404.29L527.05,1406.16L527.30,1407.94L527.55,1409.64L527.80,1411.26L528.05,1412.81L528.30,1414.29L528.55,1415.69L528.80,1417.04L529.05,1418.32L529.30,1419.55L529.55,1420.72L529.80,1421.85L530.05,1422.92L530.30,1423.96L530.55,1424.96L530.80,1425.92L531.05,1426.85L531.30,1427.76L531.55,1428.64L531.80,1429.50L532.05,1430.34L532.30,1431.15L532.55,1431.93L532.80,1432.70L533.05,1433.43L533.30,1434.14L533.55,1434.82L533.80,1435.48L534.05,1436.11L534.30,1436.71L534.55,1437.28L534.80,1437.82L535.05,1438.33L535.30,1438.82L535.55,1439.27L535.80,1439.69L536.05,1440.08L536.30,1440.45L536.55,1440.81L536.80,1441.16L537.05,1441.50L537.30,1441.84L537.55,1442.16L537.80,1442.48L538.05,1442.79L538.30,1443.09L538.55,1443.38L538.80,1443.67L539.05,1443.95L539.30,1444.22L539.55,1444.49L539.80,1444.75L540.00,1444.95L542.00,1446.80L544.00,1448.41L546.00,1449.90L548.00,1451.35L550.00,1452.70L552.00,1453.95L554.00,1455.12L556.00,1456.22L558.00,1457.28L560.00,1458.30L562.00,1459.31L564.00,1460.30L566.00,1461.31L568.00,1462.35L570.00,1463.43L572.00,1464.56L574.00,1465.77L576.00,1467.03L578.00,1468.34L580.00,1469.67L582.00,1471.02L584.00,1472.37L586.00,1473.70L588.00,1475.00L590.00,1476.36L592.00,1477.81L594.00,1479.28L596.00,1480.70L598.00,1482.00L600.00,1483.11L602.00,1483.94L604.00,1484.52L606.00,1485.02L608.00,1485.45L610.00,1485.84L612.00,1486.19L614.00,1486.50L616.00,1486.80L618.00,1487.10L620.00,1487.40L622.00,1487.71L624.00,1488.04L626.00,1488.36L628.00,1488.67L630.00,1488.96L632.00,1489.22L634.00,1489.44L636.00,1489.60L638.00,1489.71L640.00,1489.78L642.00,1489.85L644.00,1489.91L646.00,1489.97L648.00,1490.02L650.00,1490.06L652.00,1490.10L654.00,1490.14L656.00,1490.18L658.00,1490.21L660.00,1490.24L662.00,1490.27L664.00,1490.30L666.00,1490.33L668.00,1490.36L670.00,1490.39L672.00,1490.41L674.00,1490.44L676.00,1490.47L678.00,1490.49L680.00,1490.51L682.00,1490.54L684.00,1490.56L686.00,1490.58L688.00,1490.60L690.00,1490.62L692.00,1490.64L694.00,1490.66L696.00,1490.68L698.00,1490.70L700.00,1490.72L708.00,1490.83L716.00,1490.99L724.00,1491.20L732.00,1491.42L740.00,1491.63L748.00,1491.79L756.00,1491.89L764.00,1491.90L772.00,1491.90L780.00,1491.90L788.00,1491.90L796.00,1491.90L804.00,1491.90L812.00,1491.90L820.00,1491.90L828.00,1491.90L836.00,1491.90L844.00,1491.90L852.00,1491.90L860.00,1491.90L868.00,1491.90L876.00,1491.90L884.00,1491.90L892.00,1491.90L900.00,1491.90L908.00,1491.90L916.00,1491.90L924.00,1491.90L932.00,1491.90L940.00,1491.90L948.00,1491.90L956.00,1491.90L964.00,1491.90L972.00,1491.90L980.00,1491.90L988.00,1491.90L996.00,1491.90L1004.00,1491.90L1012.00,1491.90L1020.00,1491.90L1028.00,1491.90L1036.00,1491.90L1044.00,1491.90L1052.00,1491.90L1060.00,1491.90L1068.00,1491.90L1076.00,1491.90L1084.00,1491.90L1092.00,1491.90L1100.00,1491.90L1108.00,1491.90L1116.00,1491.90L1124.00,1491.90L1132.00,1491.90L1140.00,1491.90L1148.00,1491.90L1156.00,1491.90L1164.00,1491.90L1172.00,1491.90L1180.00,1491.90L1188.00,1491.90L1196.00,1491.90L1204.00,1491.90L1212.00,1491.90L1220.00,1491.90L1228.00,1491.90L1236.00,1491.90L1244.00,1491.90L1252.00,1491.90L1260.00,1491.90L1268.00,1491.90L1276.00,1491.90L1284.00,1491.90L1292.00,1491.90L1300.00,1491.90L1308.00,1491.90L1316.00,1491.90L1324.00,1491.90L1332.00,1491.90L1340.00,1491.90L1348.00,1491.90L1356.00,1491.90L1364.00,1491.90L1372.00,1491.90L1380.00,1491.90L1388.00,1491.90L1396.00,1491.90L1404.00,1491.90L1412.00,1491.90L1420.00,1491.90L1428.00,1491.90L1436.00,1491.90L1444.00,1491.90L1452.00,1491.90L1460.00,1491.90L1468.00,1491.90L1476.00,1491.90L1484.00,1491.90L1492.00,1491.90L1500.00,1491.90L1508.00,1491.90L1516.00,1491.90L1524.00,1491.90L1532.00,1491.90L1540.00,1491.90L1548.00,1491.90L1556.00,1491.90L1564.00,1491.90L1572.00,1491.90L1580.00,1491.90L1588.00,1491.90L1596.00,1491.90L1604.00,1491.90L1612.00,1491.90L1620.00,1491.90L1628.00,1491.90L1636.00,1491.90L1644.00,1491.90L1652.00,1491.90L1660.00,1491.90L1668.00,1491.90L1676.00,1491.90L1684.00,1491.90L1692.00,1491.90L1700.00,1491.90L1708.00,1491.90L1716.00,1491.90L1724.00,1491.90L1732.00,1491.90L1740.00,1491.90L1748.00,1491.90L1756.00,1491.90L1764.00,1491.90L1772.00,1491.90L1780.00,1491.90L1788.00,1491.90L1796.00,1491.90L1804.00,1491.90L1812.00,1491.90L1820.00,1491.90L1828.00,1491.90L1836.00,1491.90L1844.00,1491.90L1852.00,1491.90L1860.00,1491.90L1868.00,1491.90L1876.00,1491.90L1884.00,1491.90L1892.00,1491.90L1900.00,1491.90L1908.00,1491.90L1916.00,1491.90L1924.00,1491.90L1932.00,1491.90L1940.00,1491.90L1948.00,1491.90L1956.00,1491.90L1964.00,1491.90L1972.00,1491.90L1980.00,1491.90L1988.00,1491.90L1996.00,1491.90L2004.00,1491.90L2012.00,1491.90L2020.00,1491.90L2028.00,1491.90L2036.00,1491.90L2044.00,1491.90L2052.00,1491.90L2060.00,1491.90L2068.00,1491.90L2076.00,1491.90L2084.00,1491.90L2092.00,1491.90L2100.00,1491.90L2108.00,1491.90L2116.00,1491.90L2124.00,1491.90L2132.00,1491.90L2140.00,1491.90L2148.00,1491.90L2156.00,1491.90L2164.00,1491.90" stroke="#000" stroke-width="6.5" stroke-dasharray="29.10 27.64 39.64 31.52 35.65 35.62 33.43 35.63 33.43 35.53 35.52 34.22 35.11 32.81 37.51 32.81 35.11 35.11 32.81 32.61 34.52 34.83 35.25 35.15 32.83 37.62 32.62 37.44 33.04 35.07 35.32 34.93 34.40 32.89 33.98 35.26 35.15 36.34 32.83 35.13 32.84 33.75 35.08 34.23 36.03 33.01 36.51 33.91 34.01 35.12 32.82 35.11 35.21 35.11 35.31 33.90 35.10 32.80 35.20 33.90 35.10 34.00 35.00 32.90 35.10 36.00 35.50 32.50 33.00 35.00 37.71 32.81 37.51 30.41 37.41 34.20 36.01 33.71 35.11 33.82 34.81 35.76 33.91 28.18 31.03 34.65 35.79 33.21 35.30 34.61 36.00 33.16 36.00 33.16 36.00 33.16 36.00 33.16 36.00 33.16 36.00 33.16 36.00 33.16 36.00 33.16 36.00 33.16 36.00 33.16 36.00 33.16 36.00 33.16 36.00 33.16 36.00 33.16 36.00 33.16 36.00 33.16 36.00 33.16 36.00 33.16 36.00 33.16 36.00 33.16 36.00 3.90 36.00"/>
</g>
<g font-family="'Liberation Serif','Times New Roman',serif" font-size="75.5" fill="#000">
<text x="330.3" y="1515.4" text-anchor="end">0.0</text>
<text x="330.3" y="1228.7" text-anchor="end">0.2</text>
<text x="330.3" y="942.0" text-anchor="end">0.4</text>
<text x="330.3" y="655.4" text-anchor="end">0.6</text>
<text x="330.3" y="368.7" text-anchor="end">0.8</text>
<text x="330.3" y="82.0" text-anchor="end">1.0</text>
<text x="561.7" y="1594.6" text-anchor="middle">5</text>
<text x="960.5" y="1594.6" text-anchor="middle">10</text>
<text x="1359.4" y="1594.6" text-anchor="middle">15</text>
<text x="1758.2" y="1594.6" text-anchor="middle">20</text>
<text x="2157.0" y="1594.6" text-anchor="middle">25</text>
</g>
<text x="1260.5" y="1734" font-family="'Liberation Serif','Times New Roman',serif" font-size="124.4" text-anchor="middle" fill="#000">Time (ns)</text>
<text transform="translate(166.5,737.6) rotate(-90)" font-family="'Liberation Serif','Times New Roman',serif" font-size="124.35" text-anchor="middle" fill="#000">Normalized Counts</text>
<rect x="1105.3" y="61.35" width="2.6" height="734.4" fill="#8a8a8a"/>
<rect x="1107.9" y="61.35" width="2.2" height="734.4" fill="#444"/>
<rect x="1108" y="791.3" width="1049.0" height="2.6" fill="#cfcfcf"/>
<g clip-path="url(#ci)" fill="none" stroke-width="6.6" stroke-linejoin="round">
<path d="M1107.8,95.6L1112.8,114.0L1117.8,131.9L1122.8,149.4L1127.8,166.5L1132.8,183.2L1137.8,199.5L1142.8,215.3L1147.8,230.8L1152.8,245.9L1157.8,260.6L1162.8,274.9L1167.8,288.9L1172.9,302.5L1177.9,315.8L1182.9,328.8L1187.9,341.4L1192.9,353.7L1197.9,365.6L1202.9,377.3L1207.9,388.7L1212.9,399.7L1217.9,410.5L1222.9,421.0L1227.9,431.2L1232.9,441.2L1237.9,450.9L1242.9,460.3L1247.9,469.5L1252.9,478.4L1257.9,487.1L1262.9,495.6L1267.9,503.8L1272.9,511.9L1277.9,519.7L1282.9,527.3L1287.9,534.6L1292.9,541.8L1298.0,548.8L1303.0,555.6L1308.0,562.2L1313.0,568.6L1318.0,574.9L1323.0,581.0L1328.0,586.9L1333.0,592.6L1338.0,598.2L1343.0,603.7L1348.0,609.0L1353.0,614.1L1358.0,619.1L1363.0,623.9L1368.0,628.7L1373.0,633.2L1378.0,637.7L1383.0,642.0L1388.0,646.2L1393.0,650.3L1398.0,654.3L1403.0,658.2L1408.0,661.9L1413.0,665.6L1418.0,669.1L1423.1,672.6L1428.1,675.9L1433.1,679.2L1438.1,682.3L1443.1,685.4L1448.1,688.4L1453.1,691.3L1458.1,694.1L1463.1,696.8L1468.1,699.5L1473.1,702.0L1478.1,704.5L1483.1,707.0L1488.1,709.3L1493.1,711.6L1498.1,713.9L1503.1,716.0L1508.1,718.1L1513.1,720.2L1518.1,722.2L1523.1,724.1L1528.1,726.0L1533.1,727.8L1538.1,729.6L1543.1,731.3L1548.2,732.9L1553.2,734.6L1558.2,736.1L1563.2,737.7L1568.2,739.1L1573.2,740.6L1578.2,742.0L1583.2,743.3L1588.2,744.7L1593.2,745.9L1598.2,747.2L1603.2,748.4L1608.2,749.6L1613.2,750.7L1618.2,751.8L1623.2,752.9L1628.2,753.9L1633.2,755.0L1638.2,755.9L1643.2,756.9L1648.2,757.8L1653.2,758.7L1658.2,759.6L1663.2,760.5L1668.2,761.3L1673.3,762.1L1678.3,762.9L1683.3,763.7L1688.3,764.4L1693.3,765.1L1698.3,765.8L1703.3,766.5L1708.3,767.2L1723.3,769.0L1738.3,770.7L1753.3,772.3L1768.3,773.9L1783.3,775.4L1798.4,776.8L1813.4,778.1L1828.4,779.3L1843.4,780.4L1858.4,781.4L1873.4,782.3L1888.4,783.2L1903.4,784.0L1918.4,784.7L1933.5,785.4L1948.5,786.1L1963.5,786.6L1978.5,787.2L1993.5,787.7L2008.5,788.1L2023.5,788.5L2038.5,788.9L2053.6,789.3L2068.6,789.6L2083.6,789.9L2098.6,790.2L2113.6,790.5L2128.6,790.7L2143.6,790.9L2158.6,791.1" stroke="#505050"/>
<path d="M1107.8,95.6L1112.8,116.0L1117.8,135.8L1122.8,155.2L1127.8,174.0L1132.8,192.4L1137.8,210.3L1142.8,227.7L1147.8,244.6L1152.8,261.1L1157.8,277.2L1162.8,292.8L1167.8,307.9L1172.9,322.7L1177.9,337.0L1182.9,351.0L1187.9,364.5L1192.9,377.7L1197.9,390.5L1202.9,402.9L1207.9,415.0L1212.9,426.7L1217.9,438.1L1222.9,449.2L1227.9,459.9L1232.9,470.3L1237.9,480.4L1242.9,490.2L1247.9,499.7L1252.9,508.9L1257.9,517.9L1262.9,526.5L1267.9,535.0L1272.9,543.1L1277.9,551.0L1282.9,558.7L1287.9,566.1L1292.9,573.3L1298.0,580.3L1303.0,587.0L1308.0,593.6L1313.0,599.9L1318.0,606.0L1323.0,612.0L1328.0,617.7L1333.0,623.3L1338.0,628.7L1343.0,633.9L1348.0,639.0L1353.0,643.9L1358.0,648.6L1363.0,653.2L1368.0,657.7L1373.0,662.0L1378.0,666.1L1383.0,670.1L1388.0,674.0L1393.0,677.8L1398.0,681.4L1403.0,685.0L1408.0,688.4L1413.0,691.7L1418.0,694.9L1423.1,698.0L1428.1,700.9L1433.1,703.8L1438.1,706.6L1443.1,709.3L1448.1,711.9L1453.1,714.5L1458.1,716.9L1463.1,719.3L1468.1,721.5L1473.1,723.8L1478.1,725.9L1483.1,728.0L1488.1,730.0L1493.1,731.9L1498.1,733.8L1503.1,735.6L1508.1,737.3L1513.1,739.0L1518.1,740.6L1523.1,742.2L1528.1,743.7L1533.1,745.2L1538.1,746.6L1543.1,748.0L1548.2,749.3L1553.2,750.6L1558.2,751.9L1563.2,753.1L1568.2,754.2L1573.2,755.4L1578.2,756.5L1583.2,757.5L1588.2,758.5L1593.2,759.5L1598.2,760.5L1603.2,761.4L1608.2,762.3L1613.2,763.2L1618.2,764.0L1623.2,764.8L1628.2,765.6L1633.2,766.3L1638.2,767.1L1643.2,767.8L1648.2,768.5L1653.2,769.1L1658.2,769.8L1663.2,770.4L1668.2,771.0L1673.3,771.5L1678.3,772.1L1683.3,772.7L1688.3,773.2L1693.3,773.7L1698.3,774.2L1703.3,774.6L1708.3,775.1L1723.3,776.4L1738.3,777.6L1753.3,778.6L1768.3,779.8L1783.3,781.0L1798.4,782.0L1813.4,783.0L1828.4,783.9L1843.4,784.7L1858.4,785.5L1873.4,786.2L1888.4,786.8L1903.4,787.4L1918.4,787.9L1933.5,788.4L1948.5,788.8L1963.5,789.2L1978.5,789.6L1993.5,790.0L2008.5,790.3L2023.5,790.5L2038.5,790.8L2053.6,791.0L2068.6,791.3L2083.6,791.5L2098.6,791.6L2113.6,791.8L2128.6,792.0L2143.6,792.1L2158.6,792.2" stroke="#f2413f"/>
<path d="M1107.8,95.6L1112.8,120.0L1117.8,143.6L1122.8,166.4L1127.8,188.5L1132.8,209.9L1137.8,230.6L1142.8,250.7L1147.8,270.1L1152.8,288.8L1157.8,306.9L1162.8,324.4L1167.8,341.3L1172.9,357.7L1177.9,373.5L1182.9,388.7L1187.9,403.4L1192.9,417.6L1197.9,431.4L1202.9,444.6L1207.9,457.4L1212.9,469.7L1217.9,481.6L1222.9,493.1L1227.9,504.2L1232.9,514.9L1237.9,525.2L1242.9,535.1L1247.9,544.7L1252.9,553.9L1257.9,562.8L1262.9,571.3L1267.9,579.6L1272.9,587.5L1277.9,595.2L1282.9,602.6L1287.9,609.7L1292.9,616.5L1298.0,623.1L1303.0,629.4L1308.0,635.6L1313.0,641.4L1318.0,647.1L1323.0,652.5L1328.0,657.8L1333.0,662.8L1338.0,667.7L1343.0,672.3L1348.0,676.8L1353.0,681.2L1358.0,685.3L1363.0,689.3L1368.0,693.2L1373.0,696.9L1378.0,700.4L1383.0,703.8L1388.0,707.1L1393.0,710.3L1398.0,713.4L1403.0,716.3L1408.0,719.1L1413.0,721.8L1418.0,724.4L1423.1,726.9L1428.1,729.3L1433.1,731.7L1438.1,733.9L1443.1,736.0L1448.1,738.1L1453.1,740.1L1458.1,742.0L1463.1,743.8L1468.1,745.6L1473.1,747.3L1478.1,748.9L1483.1,750.5L1488.1,752.0L1493.1,753.4L1498.1,754.8L1503.1,756.1L1508.1,757.4L1513.1,758.7L1518.1,759.9L1523.1,761.0L1528.1,762.1L1533.1,763.2L1538.1,764.2L1543.1,765.2L1548.2,766.1L1553.2,767.0L1558.2,767.9L1563.2,768.7L1568.2,769.6L1573.2,770.3L1578.2,771.1L1583.2,771.8L1588.2,772.5L1593.2,773.2L1598.2,773.8L1603.2,774.4L1608.2,775.0L1613.2,775.6L1618.2,776.1L1623.2,776.7L1628.2,777.2L1633.2,777.7L1638.2,778.2L1643.2,778.6L1648.2,779.1L1653.2,779.5L1658.2,779.9L1663.2,780.3L1668.2,780.7L1673.3,781.0L1678.3,781.4L1683.3,781.7L1688.3,782.0L1693.3,782.4L1698.3,782.7L1703.3,782.9L1708.3,783.2L1723.3,784.0L1738.3,784.7L1753.3,785.3L1768.3,786.1L1783.3,786.8L1798.4,787.5L1813.4,788.1L1828.4,788.7L1843.4,789.2L1858.4,789.6L1873.4,790.0L1888.4,790.4L1903.4,790.7L1918.4,791.0L1933.5,791.3L1948.5,791.5L1963.5,791.7L1978.5,791.9L1993.5,792.1L2008.5,792.2L2023.5,792.4L2038.5,792.5L2053.6,792.6L2068.6,792.7L2083.6,792.8L2098.6,792.9L2113.6,793.0L2128.6,793.0L2143.6,793.1L2158.6,793.1" stroke="#0d6fd0"/>
<path d="M1107.8,95.6L1112.8,124.6L1117.8,152.4L1122.8,179.1L1127.8,204.7L1132.8,229.2L1137.8,252.8L1142.8,275.3L1147.8,297.0L1152.8,317.7L1157.8,337.6L1162.8,356.6L1167.8,374.9L1172.9,392.4L1177.9,409.2L1182.9,425.3L1187.9,440.7L1192.9,455.4L1197.9,469.6L1202.9,483.1L1207.9,496.1L1212.9,508.5L1217.9,520.4L1222.9,531.8L1227.9,542.7L1232.9,553.2L1237.9,563.2L1242.9,572.8L1247.9,582.0L1252.9,590.8L1257.9,599.3L1262.9,607.3L1267.9,615.1L1272.9,622.5L1277.9,629.5L1282.9,636.3L1287.9,642.8L1292.9,649.1L1298.0,655.0L1303.0,660.7L1308.0,666.2L1313.0,671.4L1318.0,676.4L1323.0,681.2L1328.0,685.8L1333.0,690.2L1338.0,694.4L1343.0,698.5L1348.0,702.3L1353.0,706.0L1358.0,709.6L1363.0,713.0L1368.0,716.2L1373.0,719.3L1378.0,722.3L1383.0,725.1L1388.0,727.9L1393.0,730.5L1398.0,733.0L1403.0,735.4L1408.0,737.7L1413.0,739.9L1418.0,742.0L1423.1,744.0L1428.1,746.0L1433.1,747.8L1438.1,749.6L1443.1,751.3L1448.1,752.9L1453.1,754.5L1458.1,756.0L1463.1,757.4L1468.1,758.8L1473.1,760.1L1478.1,761.4L1483.1,762.6L1488.1,763.8L1493.1,764.9L1498.1,766.0L1503.1,767.0L1508.1,768.0L1513.1,768.9L1518.1,769.8L1523.1,770.7L1528.1,771.5L1533.1,772.3L1538.1,773.1L1543.1,773.8L1548.2,774.5L1553.2,775.2L1558.2,775.8L1563.2,776.5L1568.2,777.1L1573.2,777.6L1578.2,778.2L1583.2,778.7L1588.2,779.2L1593.2,779.7L1598.2,780.2L1603.2,780.6L1608.2,781.1L1613.2,781.5L1618.2,781.9L1623.2,782.3L1628.2,782.6L1633.2,783.0L1638.2,783.3L1643.2,783.7L1648.2,784.0L1653.2,784.3L1658.2,784.6L1663.2,784.9L1668.2,785.1L1673.3,785.4L1678.3,785.6L1683.3,785.9L1688.3,786.1L1693.3,786.3L1698.3,786.5L1703.3,786.7L1708.3,786.9L1723.3,787.5L1738.3,788.0L1753.3,788.4L1768.3,789.0L1783.3,789.5L1798.4,790.0L1813.4,790.4L1828.4,790.8L1843.4,791.2L1858.4,791.4L1873.4,791.7L1888.4,791.9L1903.4,792.1L1918.4,792.3L1933.5,792.5L1948.5,792.6L1963.5,792.7L1978.5,792.8L1993.5,792.9L2008.5,793.0L2023.5,793.1L2038.5,793.1L2053.6,793.2L2068.6,793.2L2083.6,793.3L2098.6,793.3L2113.6,793.4L2128.6,793.4L2143.6,793.4L2158.6,793.4" stroke="#0aa66c"/>
</g>
<rect x="1107.9" y="793.9" width="1049.1" height="2.0" fill="#000"/>
<g stroke="#3a3a3a" stroke-width="3.4" fill="none">
<path d="M1108,706.4h7.2"/>
<path d="M1108,619.1h14.3"/>
<path d="M1108,531.9h7.2"/>
<path d="M1108,444.6h14.3"/>
<path d="M1108,357.4h7.2"/>
<path d="M1108,270.1h14.3"/>
<path d="M1108,182.9h7.2"/>
<path d="M1108,95.6h14.3"/>
</g><g stroke="#4a4a4a" stroke-width="4" fill="none">
<path d="M1233.3,794.5V787.6"/>
<path d="M1358.4,794.5V780.0"/>
<path d="M1483.5,794.5V787.6"/>
<path d="M1608.6,794.5V780.0"/>
<path d="M1733.7,794.5V787.6"/>
<path d="M1858.8,794.5V780.0"/>
<path d="M1983.9,794.5V787.6"/>
<path d="M2109.0,794.5V780.0"/>
</g>
<g font-family="'Liberation Serif','Times New Roman',serif" font-size="58" fill="#000">
<text x="1092.5" y="810.1" text-anchor="end">0.00</text>
<text x="1092.5" y="635.6" text-anchor="end">0.25</text>
<text x="1092.5" y="461.1" text-anchor="end">0.50</text>
<text x="1092.5" y="286.6" text-anchor="end">0.75</text>
<text x="1092.5" y="112.1" text-anchor="end">1.00</text>
</g>
<g font-family="'Liberation Serif','Times New Roman',serif" font-size="61" fill="#000">
<text x="1108.2" y="856.8" text-anchor="middle">0</text>
<text x="1358.4" y="856.8" text-anchor="middle">5</text>
<text x="1608.6" y="856.8" text-anchor="middle">10</text>
<text x="1858.8" y="856.8" text-anchor="middle">15</text>
<text x="2109.0" y="856.8" text-anchor="middle">20</text>
</g>
<text x="1633.6" y="951" font-family="'Liberation Serif','Times New Roman',serif" font-size="82.6" text-anchor="middle" fill="#000">Time (ns)</text>
<text transform="translate(958.6,429.0) rotate(-90)" font-family="'Liberation Serif','Times New Roman',serif" font-size="77.2" text-anchor="middle" fill="#000">Normalized Counts</text>
<g font-family="'Liberation Sans',Arial,sans-serif" font-size="75.5">
<text x="1228" y="355.5" fill="#000">(a)</text>
<text x="1314.8" y="510.5" fill="#ff0000">(b)</text>
<text x="1558" y="674.2" fill="#0000cd">(c)</text>
<text x="1183.5" y="743.7" fill="#008000">(d)</text>
<text x="582" y="1450" fill="#000">(e)</text>
</g>
<path d="M1311.5,506.6L1282.6,545.2" stroke="#e03030" stroke-width="2.2" fill="none"/>
<path d="M1546.5,688.8L1502.7,763.8" stroke="#1010c8" stroke-width="2.2" fill="none"/>
<path d="M1262,619.7L1239.9,662" stroke="#108040" stroke-width="2.2" fill="none"/>
<g fill="none" stroke-width="7">
<path d="M1720,251H1865.2" stroke="#505050"/>
<path d="M1720,327.4H1865.2" stroke="#f2413f"/>
<path d="M1720,404.8H1865.2" stroke="#0d6fd0"/>
<path d="M1720,481.1H1865.2" stroke="#0aa66c"/>
<path d="M1720.4,557.4H1865.2" stroke="#000" stroke-dasharray="36 33.4"/>
</g>
<g font-family="'Liberation Serif','Times New Roman',serif" font-size="61.5" fill="#000">
<text x="1956.5" y="195">pH</text>
<text x="1878" y="272">(a) 3.98</text>
<text x="1878" y="348.3">(b) 5.34</text>
<text x="1878" y="424.8">(c) 6.75</text>
<text x="1878" y="501.2">(d) 7.99</text>
<text x="1878" y="577.9">(e) Ludox</text>
</g>
</svg>
</body></html>
